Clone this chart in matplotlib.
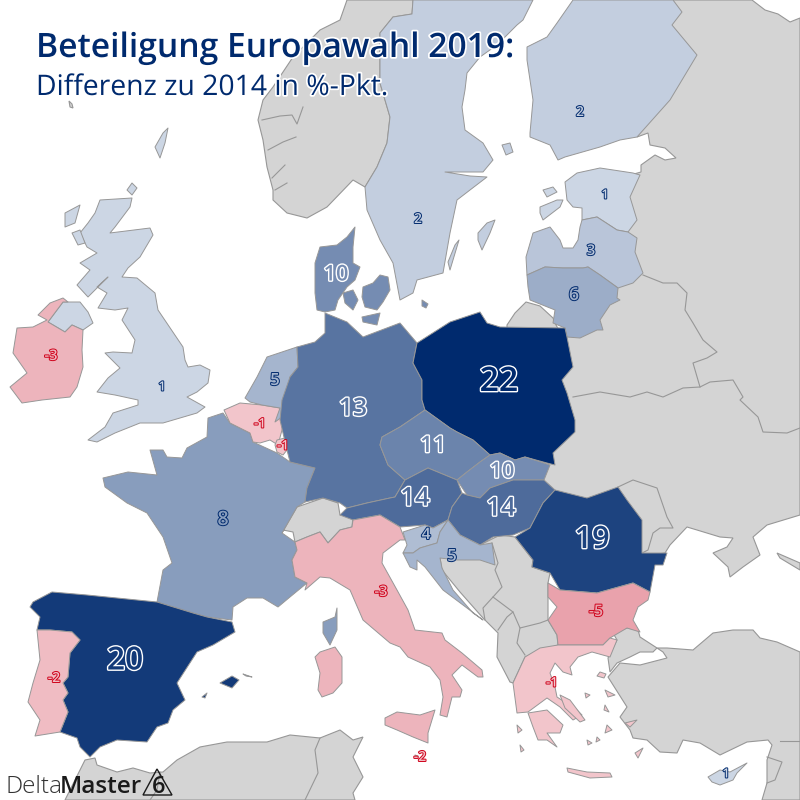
import matplotlib
matplotlib.use('Agg')
import matplotlib.pyplot as plt
import matplotlib.patheffects as pe
from matplotlib.patches import Polygon

# values
countries = ['UK', 'Ireland', 'France', 'Spain', 'Portugal', 'Belgium', 'Luxembourg',
             'Netherlands', 'Germany', 'Denmark', 'Sweden', 'Finland', 'Estonia', 'Latvia',
             'Lithuania', 'Poland', 'Czechia', 'Slovakia', 'Austria', 'Hungary', 'Slovenia',
             'Croatia', 'Romania', 'Bulgaria', 'Italy', 'Greece', 'Malta', 'Cyprus']
values = [1, -3, 8, 20, -2, -1, -1,
          5, 13, 10, 2, 2, 1, 3,
          6, 22, 11, 10, 14, 14, 4,
          5, 19, -5, -3, -1, -2, 1]
title_text = 'Beteiligung Europawahl 2019:'
subtitle_text = 'Differenz zu 2014 in %-Pkt.'

NAVY = '#002A6E'
RED = '#D0021B'
GRAY = '#D4D4D4'
EDGE = '#979797'

# outlines, no geodata available offline (pixel coords)
shapes = {
    'UK': [
        [(100,200),(132,198),(130,207),(115,227),(110,233),(150,228),(153,235),(140,257),(128,268),(122,277),
         (137,278),(155,293),(158,310),(183,347),(185,360),(188,367),(200,365),(210,370),(208,383),(197,392),
         (187,397),(205,407),(197,413),(163,423),(140,423),(115,433),(97,442),(88,440),(105,427),(113,413),
         (138,405),(138,400),(115,395),(97,392),(108,378),(120,368),(112,360),(105,353),(113,352),(132,353),
         (135,340),(122,320),(128,308),(115,310),(98,308),(107,293),(97,287),(108,277),(88,297),(77,285),
         (90,270),(80,263),(97,253),(87,247),(80,233),(88,223),(95,213)],
        [(48,322),(63,302),(80,302),(88,312),(93,323),(83,330),(72,325),(65,332)],
        [(155,147),(163,133),(168,128),(165,143),(160,158)],
        [(127,190),(132,183),(137,188),(132,195)],
        [(65,213),(80,205),(75,223),(65,227)],
        [(72,233),(80,230),(85,243),(78,245)],
    ],
    'Ireland': [
        [(48,322),(65,332),(72,325),(83,330),(82,350),(83,367),(77,387),(70,397),(42,400),(22,403),
         (10,387),(27,373),(13,353),(17,328),(33,327),(47,320),(38,315),(50,303),(63,298),(68,302),(63,302)],
    ],
    'France': [
        [(223,413),(230,423),(250,433),(253,442),(277,453),(290,462),(315,468),(307,488),(305,502),(297,507),
         (282,533),(295,542),(297,550),(292,560),(295,577),(307,583),(290,597),(278,607),(263,598),(247,598),
         (233,607),(232,620),(207,617),(193,613),(157,602),(163,570),(172,563),(163,537),(147,513),(127,503),
         (105,487),(103,478),(128,472),(157,475),(150,450),(163,450),(167,457),(182,458),(187,448),(207,437),(208,418)],
        [(323,622),(335,617),(337,608),(337,630),(330,645),(323,633)],
    ],
    'Spain': [
        [(30,607),(33,602),(52,592),(87,595),(117,598),(157,602),(193,613),(207,617),(232,622),(235,632),
         (213,645),(197,652),(177,683),(185,700),(173,710),(168,723),(157,727),(147,742),(117,740),(100,747),
         (90,757),(80,747),(77,738),(60,732),(68,712),(63,700),(68,693),(63,683),(68,677),(70,653),(80,640),
         (72,632),(50,630),(37,630),(40,617)],
        [(220,683),(232,676),(239,680),(232,688)],
        [(243,674),(252,677),(246,676)],
        [(202,697),(207,693),(205,698)],
    ],
    'Portugal': [
        [(37,630),(50,630),(72,632),(80,640),(70,653),(68,677),(63,683),(68,693),(63,700),(68,712),(60,732),
         (35,736),(40,720),(28,702),(33,683),(40,660)],
    ],
    'Belgium': [
        [(224,410),(240,403),(262,405),(280,408),(285,420),(282,430),(278,445),(270,440),(260,443),(253,442),
         (250,433),(230,423)],
    ],
    'Luxembourg': [
        [(277,440),(285,438),(287,450),(283,455),(277,452),(275,445)],
    ],
    'Netherlands': [
        [(245,398),(257,377),(267,357),(297,347),(298,367),(290,377),(287,400),(282,417),(275,422),(280,408),
         (262,405),(250,402)],
    ],
    'Germany': [
        [(297,347),(315,342),(325,333),(325,313),(347,322),(363,337),(400,323),(417,343),(413,363),(422,380),
         (422,400),(425,410),(400,427),(382,437),(380,445),(388,465),(405,480),(395,497),(390,498),(367,503),
         (347,508),(340,503),(323,498),(305,502),(307,488),(315,468),(290,462),(287,450),(283,433),(280,420),
         (282,400),(290,377),(298,367)],
    ],
    'Denmark': [
        [(355,227),(347,237),(337,245),(320,247),(315,263),(315,293),(317,310),(325,312),(335,310),(338,300),
         (347,287),(355,280),(360,267),(353,263),(353,247)],
        [(343,293),(353,290),(358,300),(353,310),(345,303)],
        [(363,287),(373,283),(380,275),(388,277),(390,290),(383,302),(377,310),(365,307),(362,297)],
        [(362,317),(380,313),(377,325),(363,322)],
        [(422,300),(428,304),(426,308),(422,306)],
    ],
    'Sweden': [
        [(533,0),(523,20),(517,25),(497,45),(480,57),(467,73),(465,90),(462,107),(465,130),(483,143),(493,160),
         (483,172),(445,172),(470,176),(487,177),(470,190),(457,200),(450,233),(443,273),(417,280),(413,293),
         (400,300),(393,263),(380,240),(367,210),(365,187),(377,167),(387,143),(390,117),(380,83),(380,33),
         (393,17),(412,14),(413,0)],
        [(478,233),(487,223),(495,220),(490,233),(482,250),(478,240)],
        [(459,240),(450,270),(448,262),(455,245)],
    ],
    'Finland': [
        [(573,0),(673,0),(682,12),(672,25),(697,55),(670,100),(637,137),(620,140),(600,147),(565,157),(558,160),
         (550,145),(530,137),(530,133),(533,100),(527,60),(527,47),(547,37),(557,23)],
        [(502,145),(510,143),(513,152),(506,155)],
    ],
    'Estonia': [
        [(565,182),(577,173),(600,168),(633,173),(640,175),(630,197),(637,220),(628,232),(617,230),(597,217),
         (582,220),(582,208),(573,207),(567,200)],
        [(540,207),(557,200),(563,200),(560,207),(543,220),(540,213)],
        [(543,190),(553,187),(557,192),(547,197)],
    ],
    'Latvia': [
        [(582,220),(597,217),(617,230),(628,232),(637,238),(635,252),(643,273),(633,283),(618,288),(600,275),
         (588,267),(583,268),(563,268),(545,267),(527,275),(526,257),(533,233),(550,227),(560,240),(563,248),
         (573,248),(578,240),(580,227)],
    ],
    'Lithuania': [
        [(527,275),(545,267),(563,268),(583,268),(588,267),(600,275),(618,288),(617,298),(620,300),(610,305),
         (600,320),(603,330),(597,330),(580,338),(567,337),(565,328),(553,323),(555,310),(530,300),(528,287)],
    ],
    'Poland': [
        [(417,343),(450,322),(480,312),(487,323),(500,327),(565,328),(567,337),(573,367),(562,380),(567,393),
         (575,420),(575,432),(553,453),(555,465),(547,463),(525,457),(515,460),(500,453),(490,455),(473,440),
         (457,432),(450,428),(425,410),(422,400),(422,380),(413,363)],
    ],
    'Czechia': [
        [(382,437),(400,427),(425,410),(450,428),(457,432),(473,440),(490,455),(480,462),(467,472),(457,480),
         (428,468),(405,480),(388,465),(380,445)],
    ],
    'Slovakia': [
        [(490,455),(500,453),(515,460),(525,457),(550,465),(544,480),(537,480),(513,480),(490,488),(480,498),
         (467,495),(457,480),(467,472),(480,462)],
    ],
    'Austria': [
        [(405,480),(428,468),(457,480),(462,493),(452,507),(448,520),(433,528),(425,525),(400,527),(380,515),
         (353,520),(340,515),(347,508),(367,503),(390,498),(395,497)],
    ],
    'Hungary': [
        [(462,493),(467,495),(480,498),(490,488),(513,480),(537,480),(544,480),(555,490),(543,503),(530,528),
         (513,535),(493,537),(480,545),(460,535),(448,520),(452,507)],
    ],
    'Slovenia': [
        [(403,532),(425,525),(433,528),(448,520),(440,532),(437,543),(420,548),(413,553),(403,553),(407,545)],
    ],
    'Croatia': [
        [(448,520),(460,535),(480,545),(492,543),(495,565),(480,560),(457,560),(440,558),(442,568),(453,590),
         (473,613),(483,620),(467,608),(443,590),(425,567),(417,560),(417,570),(410,567),(403,553),(413,553),
         (420,548),(437,543),(440,532)],
    ],
    'Romania': [
        [(555,490),(587,498),(618,487),(627,500),(642,520),(642,553),(667,553),(663,565),(655,565),(650,592),
         (633,583),(597,593),(560,590),(550,573),(532,567),(533,560),(515,537),(530,528),(543,503)],
    ],
    'Bulgaria': [
        [(548,583),(560,590),(597,593),(633,583),(650,592),(648,600),(638,607),(633,620),(640,632),(627,628),
         (610,638),(603,645),(558,645),(557,635),(548,620),(557,607),(548,597)],
    ],
    'Italy': [
        [(295,542),(307,537),(320,532),(328,543),(340,530),(352,527),(353,520),(380,515),(400,527),(405,540),
         (400,540),(383,553),(382,563),(397,590),(408,610),(415,630),(442,633),(445,640),(462,653),(482,670),
         (483,677),(478,677),(462,665),(452,675),(462,690),(460,697),(452,697),(447,717),(440,715),(443,697),
         (440,680),(430,667),(408,657),(400,647),(390,643),(363,620),(350,590),(330,578),(320,577),(305,590),
         (307,583),(295,577),(292,560),(297,550)],
        [(385,718),(397,712),(420,715),(435,710),(428,733),(428,743),(413,737),(397,730),(385,725)],
        [(320,652),(335,647),(342,657),(342,683),(333,693),(322,697),(318,690),(320,673),(315,657)],
    ],
    'Greece': [
        [(558,645),(603,645),(610,638),(617,640),(610,657),(592,652),(578,657),(570,667),(572,675),(563,672),
         (555,663),(550,673),(555,687),(557,697),(577,710),(582,715),(573,720),(560,707),(547,698),(528,712),
         (517,713),(513,683),(525,657),(540,648)],
        [(528,713),(547,710),(563,725),(560,733),(547,733),(557,747),(547,740),(538,740),(533,727)],
        [(567,768),(587,772),(610,773),(612,777),(590,778),(568,772)],
        [(560,695),(570,700),(585,720),(580,722),(565,708)],
        [(605,690),(615,695),(608,697)],
        [(605,705),(609,712),(604,710)],
        [(635,753),(643,748),(638,758)],
        [(600,672),(606,674),(604,678),(597,676)],
        [(625,723),(637,720),(630,727)],
        [(607,725),(612,730),(605,733)],
        [(587,740),(592,743),(588,745)],
        [(597,737),(600,740),(596,742)],
        [(585,693),(590,695),(586,698)],
        [(517,725),(522,730),(518,733)],
        [(520,745),(524,750),(521,752)],
    ],
    'Malta': [
        [(415,755),(418,756),(416,758)],
    ],
    'Cyprus': [
        [(708,777),(720,770),(730,772),(747,763),(737,773),(733,780),(720,785),(712,782)],
    ],
}

gray_shapes = [
    # Russia, Baltic hinterland, Belarus, Ukraine (west side runs under the coloured countries)
    [(673,0),(752,0),(765,10),(778,14),(790,22),(800,18),(800,515),(767,525),(753,537),(760,555),(743,567),(730,577),
     (728,567),(713,553),(727,547),(733,538),(720,537),(697,530),(687,527),(670,545),(665,553),(620,560),(540,520),
     (535,470),(540,350),(585,320),(610,250),(610,200),(620,178),(641,172),(641,165),(655,155),(665,160),(676,158),
     (665,148),(650,145),(648,133),(637,137)],
    [(780,558),(800,570),(800,563),(777,553)],
    # Kaliningrad
    [(507,325),(515,313),(526,302),(540,306),(553,318),(556,325),(560,332),(507,332)],
    # Norway
    [(347,0),(340,20),(320,30),(310,40),(293,57),(273,87),(263,100),(258,120),(263,140),(267,167),(273,190),(273,200),
     (287,213),(307,218),(327,207),(353,180),(365,187),(377,167),(387,143),(390,117),(380,83),(380,33),(393,17),
     (412,14),(413,0)],
    # Switzerland
    [(282,533),(297,507),(323,498),(338,503),(340,515),(353,517),(352,527),(340,530),(328,543),(320,532),(307,537),
     (295,542),(293,532),(283,530)],
    # western Balkans
    [(440,558),(480,545),(500,535),(515,537),(533,560),(532,567),(550,573),(548,583),(548,620),(557,635),(558,645),
     (525,657),(513,683),(510,682),(497,657),(498,633),(483,618),(460,592),(442,570)],
    # Thrace
    [(613,633),(627,628),(638,630),(640,637),(657,648),(653,652),(640,652),(630,657),(617,663),(610,672),(608,658),(617,640)],
    # Anatolia and Levant
    [(657,648),(667,648),(693,650),(713,633),(733,630),(753,630),(760,638),(777,642),(800,652),(800,800),(762,800),
     (767,783),(767,760),(772,745),(768,740),(747,742),(720,755),(700,743),(683,740),(677,753),(660,752),(647,740),
     (633,738),(630,730),(620,717),(627,707),(608,677),(620,663),(640,665),(667,658),(663,652)],
    # north Africa
    [(85,760),(95,758),(97,765),(117,772),(133,768),(150,773),(163,772),(177,760),(200,747),(227,742),(267,742),
     (290,735),(320,738),(340,730),(353,740),(363,737),(353,757),(363,777),(353,793),(355,800),(65,800)],
    # Faroe
    [(69,101),(72,104),(73,108),(70,107)],
]

gray_lines = [
    # Belarus
    [(643,275),(663,283),(677,283),(687,293),(685,310),(693,323),(703,340),(717,352),(707,358),(693,363),(700,387)],
    [(573,397),(600,392),(630,397),(647,392),(663,397),(683,388),(700,387),(710,382),(733,380),(743,397),(740,400),
     (758,417),(763,432),(787,433),(800,428)],
    # Moldova
    [(618,487),(633,480),(657,488),(667,517),(673,528),(660,528),(653,533),(648,550),(642,553)],
    # western Balkans
    [(492,543),(498,563),(495,570),(502,587),(493,597),(483,608),(485,620)],
    [(493,597),(513,612),(507,617),(498,630)],
    [(513,612),(520,628),(540,623),(548,620)],
    [(520,628),(517,643),(525,655)],
    # Maghreb
    [(320,738),(315,750),(318,773),(305,800)],
    [(160,772),(157,790),(150,800)],
    # Levant
    [(780,741),(800,741)],
    [(767,757),(782,762),(775,780),(767,783)],
    # Norwegian fjords
    [(262,120),(280,116),(292,115),(297,124),(303,107)],
    [(268,150),(283,142),(296,137)],
    [(272,178),(285,165)],
    [(275,190),(287,183)],
    # Scottish firths
    [(90,270),(100,265),(108,277)],
]

fig = plt.figure(figsize=(8, 8), dpi=100, facecolor='white')
ax = fig.add_axes([0, 0, 1, 1])
ax.set_xlim(0, 800)
ax.set_ylim(800, 0)
ax.axis('off')


def value_color(v):
    # blue ramp for gains, red ramp for losses
    if v >= 0:
        start, end, span = (214, 222, 234), (0, 42, 110), 22.0
    else:
        start, end, span = (244, 206, 211), (233, 162, 172), 5.0
    t = abs(v) / span
    return tuple((a + (b - a) * t) / 255 for a, b in zip(start, end))


for pts in gray_shapes:
    ax.add_patch(Polygon(pts, closed=True, facecolor=GRAY, edgecolor=EDGE, linewidth=0.8, zorder=1))
for pts in gray_lines:
    ax.plot([p[0] for p in pts], [p[1] for p in pts], color=EDGE, lw=0.8, zorder=1.5)

for name, v in zip(countries, values):
    for pts in shapes[name]:
        ax.add_patch(Polygon(pts, closed=True, facecolor=value_color(v), edgecolor=EDGE,
                             linewidth=0.7, joinstyle='round', zorder=2))

# where each number sits
label_pos = {
    'UK': (162, 387), 'Ireland': (51, 356), 'France': (223, 520), 'Spain': (125, 661), 'Portugal': (54, 678),
    'Belgium': (260, 424), 'Luxembourg': (283, 446), 'Netherlands': (275, 381), 'Germany': (353, 409),
    'Denmark': (336, 275), 'Sweden': (418, 219), 'Finland': (580, 112), 'Estonia': (605, 195), 'Latvia': (591, 251),
    'Lithuania': (574, 295), 'Poland': (499, 382), 'Czechia': (433, 446), 'Slovakia': (502, 472), 'Austria': (415, 499),
    'Hungary': (501, 509), 'Slovenia': (426, 535), 'Croatia': (452, 557), 'Romania': (592, 540), 'Bulgaria': (596, 612),
    'Italy': (381, 592), 'Greece': (552, 683), 'Malta': (420, 757), 'Cyprus': (726, 774),
}

# numbers: fill in the region colour, outline white on dark regions, else navy/red
for name, v in zip(countries, values):
    x, y = label_pos[name]
    size = 8.5 + 0.72 * v if v > 0 else 9 + 0.5 * abs(v)
    if v >= 10:
        outline, lw = 'white', 2.0
    elif v > 0:
        outline, lw = NAVY, 1.4
    else:
        outline, lw = RED, 1.4
    ax.text(x, y, str(v), ha='center', va='center', fontsize=size, family='Open Sans', weight='semibold',
            color=value_color(v), zorder=5, path_effects=[pe.withStroke(linewidth=lw, foreground=outline)])

halo = [pe.withStroke(linewidth=2.5, foreground='white')]
ax.text(36, 57, title_text, fontsize=24.2, family='Open Sans', weight='semibold', color=NAVY,
        va='baseline', zorder=6, path_effects=halo)
ax.text(36, 95, subtitle_text, fontsize=20.4, family='Open Sans', color=NAVY,
        va='baseline', zorder=6, path_effects=halo)

# DeltaMaster logo
ax.text(6, 793, 'Delta', fontsize=17.5, family='Open Sans', weight='light', color='#333333', zorder=6)
ax.text(60, 793, 'Master', fontsize=17.5, family='Open Sans', weight='semibold', color='#1a1a1a', zorder=6)
ax.add_patch(Polygon([(143, 795), (157, 769), (172, 795)], closed=True, fill=False, edgecolor='#1a1a1a',
                     linewidth=1.0, zorder=6))
ax.text(159, 793, '6', fontsize=17, family='Open Sans', weight='semibold', color='#1a1a1a', ha='center', zorder=7)

fig.savefig('out.png', dpi=100, facecolor='white')
